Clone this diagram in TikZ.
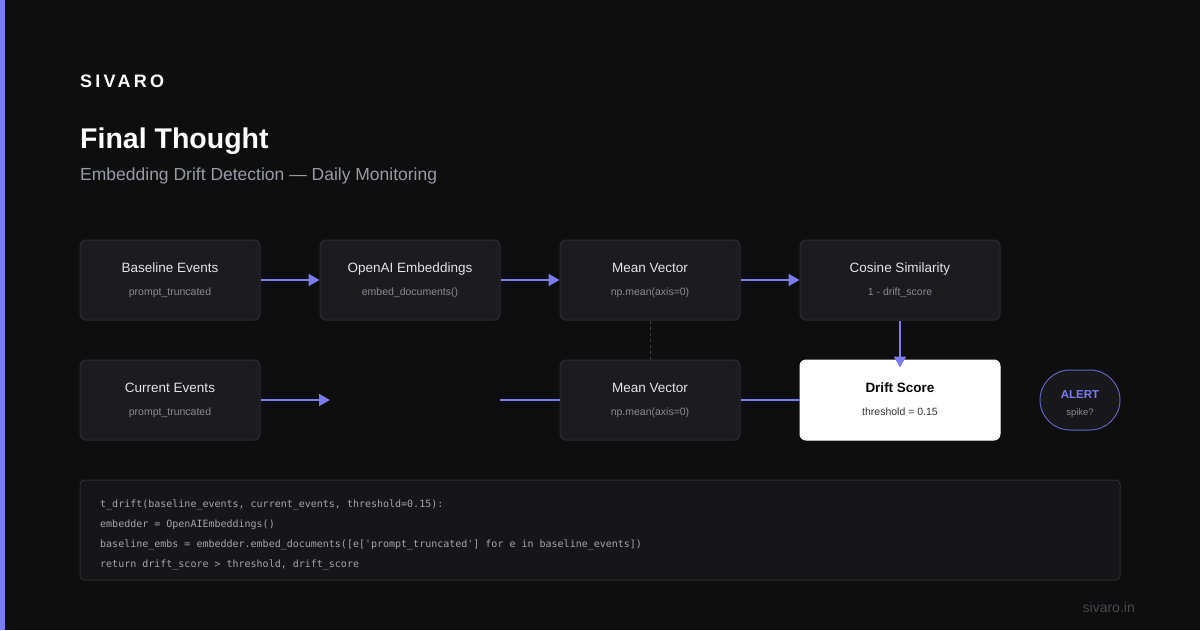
\documentclass[tikz,border=0pt]{standalone}
\usepackage{fontspec}
\setmainfont{Liberation Sans}
\setmonofont{DejaVu Sans Mono}
\newfontfamily\brandfont[LetterSpace=18]{Liberation Sans}
\usetikzlibrary{arrows.meta}

\definecolor{bg}{HTML}{0E0E0F}
\definecolor{accent}{HTML}{7B7BF2}
\definecolor{boxfill}{HTML}{1C1C1F}
\definecolor{boxline}{HTML}{2C2C30}
\definecolor{dashline}{HTML}{404044}
\definecolor{ink}{HTML}{E4E4E6}
\definecolor{muted}{HTML}{8A8A92}
\definecolor{subtle}{HTML}{9A9AA6}
\definecolor{codefill}{HTML}{161618}
\definecolor{codeink}{HTML}{A6A6AA}
\definecolor{faint}{HTML}{4A4A4E}

\tikzset{
  box/.style={draw=boxline, fill=boxfill, rounded corners=6pt, line width=1pt,
    minimum width=180pt, minimum height=80pt, inner sep=0pt},
  wide/.style={minimum width=200pt},
  hot/.style={draw=white, fill=white},
  ttl/.style={anchor=base, text=ink, font=\fontsize{13.5}{16}\selectfont},
  sub/.style={anchor=base, text=muted, font=\fontsize{10.5}{12}\selectfont},
  flow/.style={draw=accent, line width=2pt, -{Triangle[length=11pt,width=12pt]}},
  link/.style={draw=accent, line width=2pt},
  code/.style={anchor=base west, text=codeink, font=\ttfamily\fontsize{10}{12}\selectfont}
}

\newcommand\stage[5][]{%
  \node[box,#1] (#2) at (#3) {};
  \node[ttl] (#2-t) at ([yshift=8pt]#2.center) {#4};
  \node[sub] (#2-s) at ([yshift=-15pt]#2.center) {#5};}

\begin{document}
\begin{tikzpicture}[x=1pt,y=-1pt,every node/.append style={inner sep=0pt}]
  \useasboundingbox (0,0) rectangle (1200,630);
  \fill[bg] (0,0) rectangle (1200,630);
  \fill[accent] (0,0) rectangle (5,630);

  \node[anchor=base west, text=white, font=\brandfont\bfseries\fontsize{18}{20}\selectfont] (brand) at (80,87) {SIVARO};
  \node[anchor=base west, text=white, font=\bfseries\fontsize{28.5}{32}\selectfont] (title) at (80,148) {Final Thought};
  \node[anchor=base west, text=subtle, font=\fontsize{17.5}{20}\selectfont] (subtitle) at (80,180) {Embedding Drift Detection — Daily Monitoring};

  \stage{base}{170,280}{Baseline Events}{prompt\_truncated}
  \stage{embed}{410,280}{OpenAI Embeddings}{embed\_documents()}
  \stage{meanA}{650,280}{Mean Vector}{np.mean(axis=0)}
  \stage[wide]{cosine}{900,280}{Cosine Similarity}{1 - drift\_score}
  \stage{current}{170,400}{Current Events}{prompt\_truncated}
  \stage{meanB}{650,400}{Mean Vector}{np.mean(axis=0)}
  \node[box,wide,hot] (drift) at (900,400) {};
  \node[ttl, text=black, font=\bfseries\fontsize{13.5}{16}\selectfont] (drift-t) at ([yshift=8pt]drift.center) {Drift Score};
  \node[sub, text=black!80] (drift-s) at ([yshift=-15pt]drift.center) {threshold = 0.15};

  \node[draw=accent!80!black, fill=boxfill!70!bg, line width=1pt, rounded corners=30pt,
    minimum width=80pt, minimum height=60pt] (alert) at (1080,400) {};
  \node[anchor=base, text=accent, font=\bfseries\fontsize{11.5}{13}\selectfont] (alert-t) at ([yshift=2pt]alert.center) {ALERT};
  \node[sub, font=\fontsize{9.5}{11}\selectfont] (alert-s) at ([yshift=-15pt]alert.center) {spike?};

  \coordinate (gapA) at (330,400);
  \coordinate (gapB) at (500,400);

  \draw[flow] (base) -- (embed);
  \draw[flow] (embed) -- (meanA);
  \draw[flow] (meanA) -- (cosine);
  \draw[flow] (cosine.south) -- ([yshift=-8pt]drift.north);
  \draw[flow] (current.east) -- (gapA);
  \draw[link] (gapB) -- (meanB.west);
  \draw[link] (meanB) -- (drift);
  \draw[dashline, dashed, line width=1pt] (meanA.south) -- (meanB.north);

  \node[box, fill=codefill, rounded corners=4pt, minimum width=1040pt, minimum height=100pt] (codebox) at (600,530) {};
  \node[code] (code1) at (100,507) {t\_drift(baseline\_events, current\_events, threshold=0.15):};
  \node[code] (code2) at (100,527) {embedder = OpenAIEmbeddings()};
  \node[code] (code3) at (100,547) {baseline\_embs = embedder.embed\_documents([e['prompt\_truncated'] for e in baseline\_events])};
  \node[code] (code4) at (100,567) {return drift\_score > threshold, drift\_score};

  \node[anchor=base east, text=faint, font=\fontsize{14}{16}\selectfont] (site) at (1135,612) {sivaro.in};
\end{tikzpicture}
\end{document}
